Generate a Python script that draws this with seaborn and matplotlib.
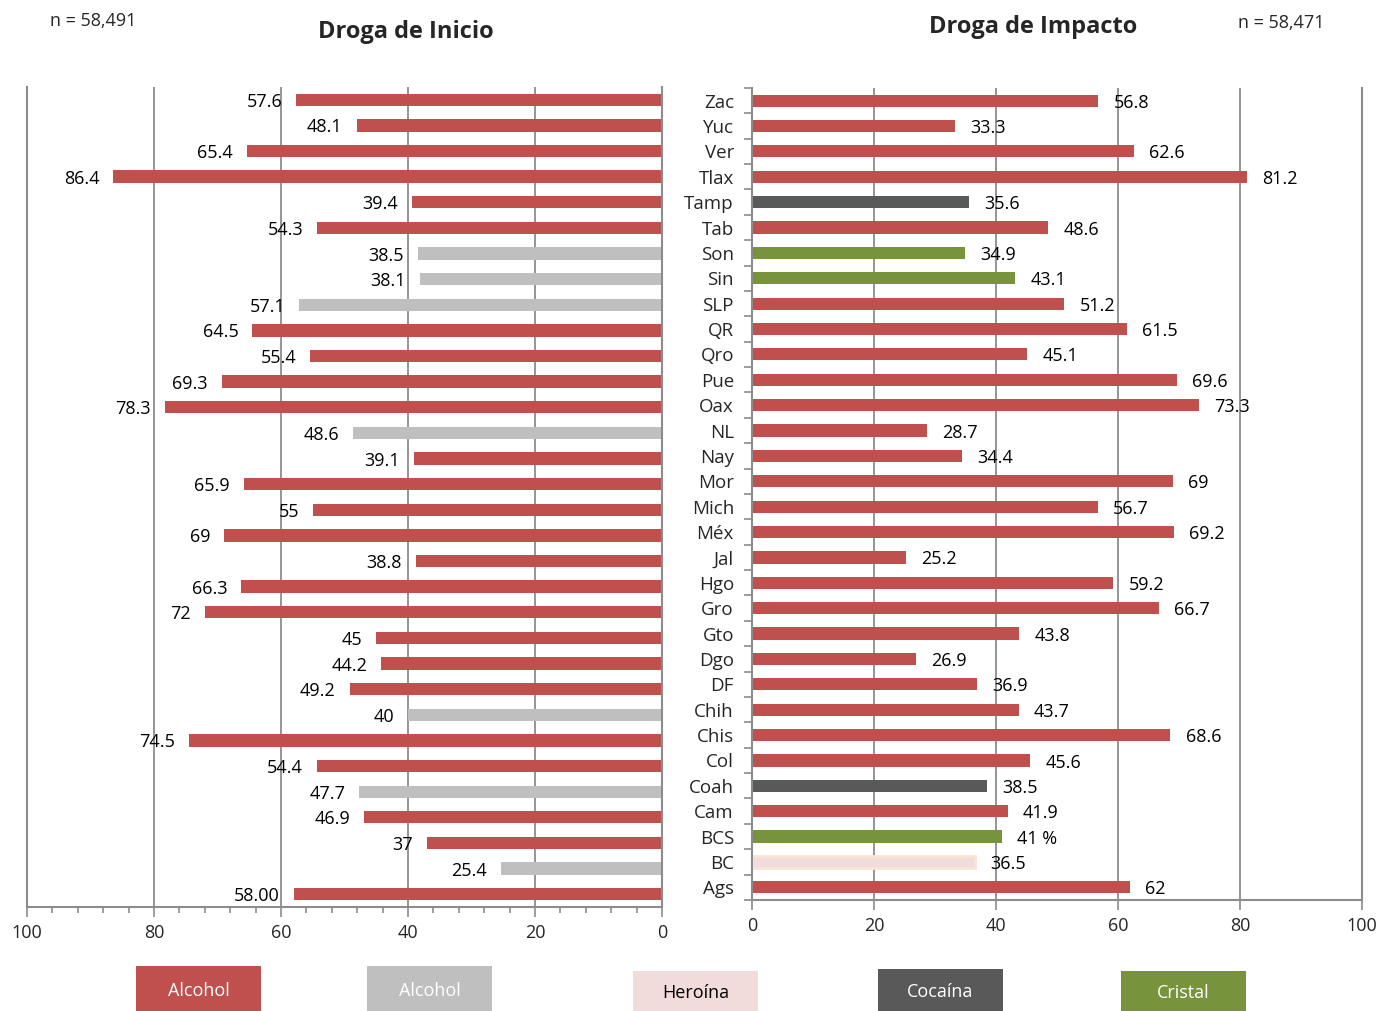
import matplotlib
matplotlib.use("Agg")
import matplotlib.pyplot as plt
import seaborn as sns
import pandas as pd
from matplotlib.patches import Rectangle
from matplotlib.ticker import MultipleLocator

sns.set_theme(style="white")
plt.rcParams['font.family'] = ['Open Sans', 'DejaVu Sans']

# Estados, de arriba hacia abajo
estados = ["Zac", "Yuc", "Ver", "Tlax", "Tamp", "Tab", "Son", "Sin", "SLP", "QR",
           "Qro", "Pue", "Oax", "NL", "Nay", "Mor", "Mich", "Méx", "Jal", "Hgo",
           "Gro", "Gto", "Dgo", "DF", "Chih", "Chis", "Col", "Coah", "Cam", "BCS",
           "BC", "Ags"]

# Droga de inicio (porcentaje)
inicio_valores = [57.6, 48.1, 65.4, 86.4, 39.4, 54.3, 38.5, 38.1, 57.1, 64.5,
                  55.4, 69.3, 78.3, 48.6, 39.1, 65.9, 55.0, 69.0, 38.8, 66.3,
                  72.0, 45.0, 44.2, 49.2, 40.0, 74.5, 54.4, 47.7, 46.9, 37.0,
                  25.4, 58.0]
inicio_etiquetas = ["57.6", "48.1", "65.4", "86.4", "39.4", "54.3", "38.5", "38.1",
                    "57.1", "64.5", "55.4", "69.3", "78.3", "48.6", "39.1", "65.9",
                    "55", "69", "38.8", "66.3", "72", "45", "44.2", "49.2", "40",
                    "74.5", "54.4", "47.7", "46.9", "37", "25.4", "58.00"]
inicio_grupo = ["Alcohol", "Alcohol", "Alcohol", "Alcohol", "Alcohol", "Alcohol",
                "Alcohol gris", "Alcohol gris", "Alcohol gris", "Alcohol", "Alcohol",
                "Alcohol", "Alcohol", "Alcohol gris", "Alcohol", "Alcohol", "Alcohol",
                "Alcohol", "Alcohol", "Alcohol", "Alcohol", "Alcohol", "Alcohol",
                "Alcohol", "Alcohol gris", "Alcohol", "Alcohol", "Alcohol gris",
                "Alcohol", "Alcohol", "Alcohol gris", "Alcohol"]

# Droga de impacto (porcentaje)
impacto_valores = [56.8, 33.3, 62.6, 81.2, 35.6, 48.6, 34.9, 43.1, 51.2, 61.5,
                   45.1, 69.6, 73.3, 28.7, 34.4, 69.0, 56.7, 69.2, 25.2, 59.2,
                   66.7, 43.8, 26.9, 36.9, 43.7, 68.6, 45.6, 38.5, 41.9, 41.0,
                   36.5, 62.0]
impacto_etiquetas = ["56.8", "33.3", "62.6", "81.2", "35.6", "48.6", "34.9", "43.1",
                     "51.2", "61.5", "45.1", "69.6", "73.3", "28.7", "34.4", "69",
                     "56.7", "69.2", "25.2", "59.2", "66.7", "43.8", "26.9", "36.9",
                     "43.7", "68.6", "45.6", "38.5", "41.9", "41 %", "36.5", "62"]
impacto_grupo = ["Alcohol", "Alcohol", "Alcohol", "Alcohol", "Cocaína", "Alcohol",
                 "Cristal", "Cristal", "Alcohol", "Alcohol", "Alcohol", "Alcohol",
                 "Alcohol", "Alcohol", "Alcohol", "Alcohol", "Alcohol", "Alcohol",
                 "Alcohol", "Alcohol", "Alcohol", "Alcohol", "Alcohol", "Alcohol",
                 "Alcohol", "Alcohol", "Alcohol", "Cocaína", "Alcohol", "Cristal",
                 "Heroína", "Alcohol"]

colores = {"Alcohol": "#C0504D", "Alcohol gris": "#BFBFBF", "Heroína": "#F2DCDB",
           "Cocaína": "#595959", "Cristal": "#77933C"}

leyenda_textos = ["Alcohol", "Alcohol", "Heroína", "Cocaína", "Cristal"]
leyenda_grupos = ["Alcohol", "Alcohol gris", "Heroína", "Cocaína", "Cristal"]

df_inicio = pd.DataFrame({"estado": estados, "valor": inicio_valores, "grupo": inicio_grupo})
df_impacto = pd.DataFrame({"estado": estados, "valor": impacto_valores, "grupo": impacto_grupo})

fig = plt.figure(figsize=(13.81, 10.11), dpi=100)
ax_l = fig.add_axes([0.0196, 0.1029, 0.4598, 0.8111])
ax_r = fig.add_axes([0.5445, 0.1098, 0.4417, 0.8032])

grid_color = "#8C8C8C"
txt_size = 13

# Panel izquierdo: droga de inicio
sns.barplot(data=df_inicio, x="valor", y="estado", hue="grupo", palette=colores,
            dodge=False, orient="h", width=0.48, legend=False, ax=ax_l,
            saturation=1, linewidth=0)
ax_l.set_xlim(100, 0)
ax_l.set_ylim(31.5, -0.5)
ax_l.set_xlabel("")
ax_l.set_ylabel("")
ax_l.set_yticks([])
ax_l.xaxis.set_major_locator(MultipleLocator(20))
ax_l.xaxis.set_minor_locator(MultipleLocator(4))
ax_l.tick_params(axis="x", which="major", direction="out", length=7, width=1.2,
                 color=grid_color, labelsize=13, pad=5, bottom=True)
ax_l.tick_params(axis="x", which="minor", direction="out", length=4, width=1.2,
                 color=grid_color, bottom=True)
for v in [80, 60, 40, 20]:
    ax_l.axvline(v, color=grid_color, lw=1.3, zorder=0)
for s in ["left", "right", "bottom"]:
    ax_l.spines[s].set_visible(True)
    ax_l.spines[s].set_color(grid_color)
    ax_l.spines[s].set_linewidth(1.5)
ax_l.spines["top"].set_visible(False)
for i, (v, t) in enumerate(zip(inicio_valores, inicio_etiquetas)):
    ax_l.annotate(t, (v, i), xytext=(-10, -1.5), textcoords="offset points",
                  ha="right", va="center", fontsize=txt_size, color="black")

# Panel derecho: droga de impacto
sns.barplot(data=df_impacto, x="valor", y="estado", hue="grupo", palette=colores,
            dodge=False, orient="h", width=0.48, legend=False, ax=ax_r,
            saturation=1, linewidth=0)
heroina_rgb = matplotlib.colors.to_rgb(colores["Heroína"])
for bar in ax_r.patches:
    if tuple(bar.get_facecolor()[:3]) == heroina_rgb:
        bar.set_edgecolor("#FBE5D6")
        bar.set_linewidth(2)
ax_r.set_xlim(0, 100)
ax_r.set_ylim(31.5, -0.5)
ax_r.set_xlabel("")
ax_r.set_ylabel("")
ax_r.xaxis.set_major_locator(MultipleLocator(20))
ax_r.set_yticks([i + 0.5 for i in range(-1, 32)], minor=True)
ax_r.tick_params(axis="y", which="major", length=0, labelsize=13.5, pad=13)
ax_r.tick_params(axis="y", which="minor", direction="out", length=6, width=1.2,
                 color=grid_color, left=True)
ax_r.tick_params(axis="x", which="major", direction="out", length=7, width=1.2,
                 color=grid_color, labelsize=13, pad=5, bottom=True)
for v in [20, 40, 60, 80]:
    ax_r.axvline(v, color=grid_color, lw=1.3, zorder=0)
for s in ["left", "right", "bottom"]:
    ax_r.spines[s].set_visible(True)
    ax_r.spines[s].set_color(grid_color)
    ax_r.spines[s].set_linewidth(1.5)
ax_r.spines["top"].set_visible(False)
for i, (v, t) in enumerate(zip(impacto_valores, impacto_etiquetas)):
    ax_r.annotate(t, (v, i), xytext=(11, -1.5), textcoords="offset points",
                  ha="left", va="center", fontsize=txt_size, color="black")

# Títulos y tamaños de muestra
fig.text(406 / 1381, 1 - 32 / 1011, "Droga de Inicio", ha="center", va="center",
         fontsize=17, fontweight="bold")
fig.text(1033 / 1381, 1 - 27 / 1011, "Droga de Impacto", ha="center", va="center",
         fontsize=17, fontweight="bold")
fig.text(50 / 1381, 1 - 21 / 1011, "n = 58,491", ha="left", va="center", fontsize=13)
fig.text(1238 / 1381, 1 - 23 / 1011, "n = 58,471", ha="left", va="center", fontsize=13)

# Cuadros de leyenda
cajas = [(136, 966, 1011), (367, 966, 1011), (633, 971, 1011), (878, 969, 1011),
         (1121, 971, 1011)]
for (x0, y0, y1), texto, grupo in zip(cajas, leyenda_textos, leyenda_grupos):
    w = 125
    fig.patches.append(Rectangle((x0 / 1381, 1 - y1 / 1011), w / 1381, (y1 - y0) / 1011,
                                 transform=fig.transFigure, facecolor=colores[grupo],
                                 edgecolor="none"))
    color_txt = "black" if grupo == "Heroína" else "white"
    fig.text((x0 + w / 2) / 1381, 1 - ((y0 + y1) / 2 + 2) / 1011, texto, ha="center",
             va="center", fontsize=13, color=color_txt)

fig.savefig("out.png", dpi=100)
